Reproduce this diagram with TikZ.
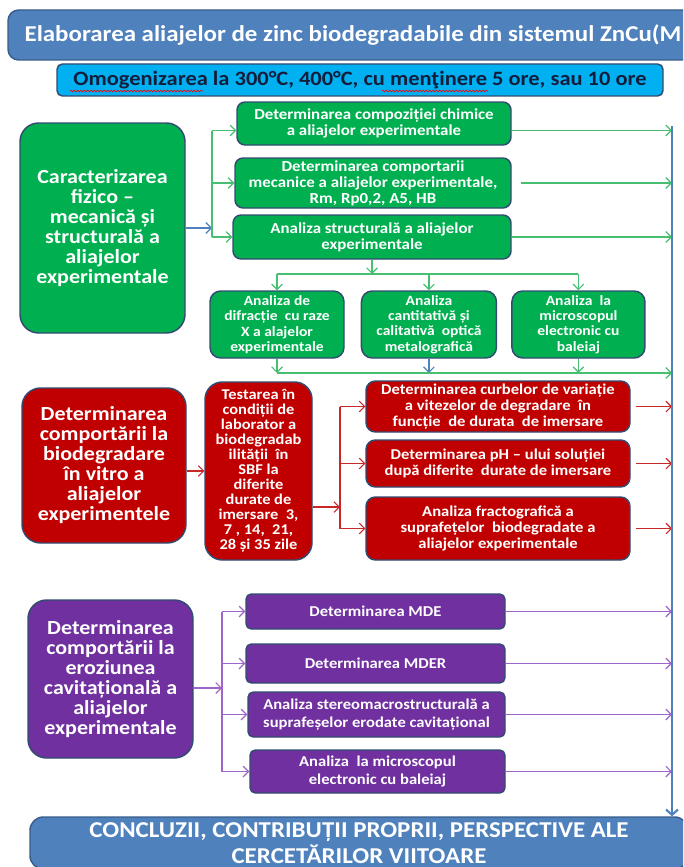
\documentclass[tikz,border=0pt]{standalone}
\usepackage{fontspec}
\setmainfont{Carlito}[FakeStretch=1.1]
\usetikzlibrary{arrows.meta, positioning, calc, decorations.pathmorphing}
\definecolor{hdrblue}{RGB}{79,129,189}
\definecolor{edgeblue}{RGB}{56,93,138}
\definecolor{mycyan}{RGB}{0,176,240}
\definecolor{mygreen}{RGB}{0,176,80}
\definecolor{mylgreen}{RGB}{70,192,112}
\definecolor{myred}{RGB}{192,0,0}
\definecolor{mylred}{RGB}{200,40,40}
\definecolor{mypurple}{RGB}{112,48,160}
\definecolor{mylpurple}{RGB}{160,100,205}
\definecolor{mydark}{RGB}{20,30,60}
\definecolor{myedge}{RGB}{50,75,112}
\tikzset{
  wh/.style 2 args={minimum width=#1*0.75pt, minimum height=#2*0.75pt},
  box/.style={rectangle, draw=myedge, line width=1.1pt, inner sep=0pt,
    align=center, text=white},
  headbox/.style={box, fill=hdrblue, draw=edgeblue, rounded corners=8pt,
    font=\fontsize{17}{19.5}\selectfont\bfseries},
  omogbox/.style={box, fill=mycyan, rounded corners=4pt, text=mydark,
    font=\fontsize{15.3}{17}\selectfont\bfseries},
  mainbox/.style={box, rounded corners=14pt,
    font=\fontsize{15}{15}\selectfont\bfseries},
  gbox/.style={box, fill=mygreen, rounded corners=6pt,
    font=\fontsize{11.5}{12}\selectfont\bfseries},
  sbox/.style={gbox, rounded corners=8pt,
    font=\fontsize{10.6}{11.5}\selectfont\bfseries},
  rbox/.style={box, fill=myred, rounded corners=7pt,
    font=\fontsize{11.3}{12}\selectfont\bfseries},
  pbox/.style={box, fill=mypurple, rounded corners=4pt,
    font=\fontsize{11.3}{14}\selectfont\bfseries},
  spell/.style={red, line width=0.5pt, decorate,
    decoration={snake, amplitude=0.6pt, segment length=2.5pt}},
  gline/.style={color=mylgreen, line width=0.9pt},
  rline/.style={color=mylred, line width=0.8pt},
  pline/.style={color=mylpurple, line width=0.9pt},
  garrow/.style={gline, -{Straight Barb[length=4pt, width=8pt]}},
  rarrow/.style={rline, -{Straight Barb[length=4pt, width=8pt]}},
  parrow/.style={pline, -{Straight Barb[length=4pt, width=8pt]}},
  barrow/.style={color=hdrblue, line width=0.9pt, -{Straight Barb[length=4pt, width=8pt]}},
  railarrow/.style={color=hdrblue, line width=1.6pt, -{Straight Barb[length=4pt, width=9pt]}}
}
\begin{document}
\begin{tikzpicture}[x=0.75pt, y=-0.75pt]
  \useasboundingbox (0,0) rectangle (683,867);
  \clip (0,0) rectangle (683,867);

  % head
  \node[headbox, wh={690}{50}] (title) at (353,35) {Elaborarea aliajelor de zinc biodegradabile din sistemul ZnCu(M};
  \node[omogbox, wh={606}{32}] (omog) at (360,80) {Omogenizarea la 300°C, 400°C, cu menţinere 5 ore, sau 10 ore};
  \draw[spell] (70,91) -- (203,91);
  \draw[spell] (382,91) -- (488,91);

  % physico-mechanical characterisation
  \node[mainbox, fill=mygreen, wh={165}{210}] (fizmec) at (102.5,228) {Caracterizarea\\fizico –\\mecanică  și\\structurală a\\aliajelor\\experimentale};
  \node[gbox, wh={274}{43}] (compoz) at (374,123.5) {Determinarea compoziției chimice\\a aliajelor experimentale};
  \node[gbox, wh={276}{50}] (mecan) at (373,183) {Determinarea comportarii\\mecanice a aliajelor experimentale,\\Rm, Rp0,2, A5, HB};
  \node[gbox, wh={278}{44}] (struct) at (372,237) {Analiza structurală a aliajelor\\experimentale};
  \node[sbox, wh={134}{67}] (difr) at (277,324.5) {Analiza de\\difracție\ \ cu raze\\X a alajelor\\experimentale};
  \node[sbox, wh={135}{67}, right=16*0.75pt of difr] (metal) {Analiza\\cantitativă și\\calitativă\ \ optică\\metalografică};
  \node[sbox, wh={133}{67}, right=14*0.75pt of metal] (sem) {Analiza\ \ la\\microscopul\\electronic cu\\baleiaj};

  % in vitro biodegradation
  \node[mainbox, fill=myred, wh={164}{155}] (biodeg) at (104,465.5) {Determinarea\\comportării la\\biodegradare\\în vitro a\\aliajelor\\experimentele};
  \node[rbox, wh={107}{178}, rounded corners=13pt, font=\fontsize{11.2}{11.25}\selectfont\bfseries] (testare) at (258.5,471)
    {Testarea în\\condiții de\\laborator a\\biodegradab\\ilității\ \ în\\SBF la\\diferite\\durate de\\imersare\ \ 3,\\7 , 14,\ \ 21,\\28 și 35 zile};
  \node[rbox, wh={264}{51}] (viteza) at (498,406.5) {Determinarea curbelor de variație\\a vitezelor de degradare\ \ în\\funcție\ \ de durata\ \ de imersare};
  \node[rbox, wh={264}{47}] (ph) at (498,463.5) {Determinarea pH – ului soluției\\după diferite\ \ durate de imersare};
  \node[rbox, wh={264}{63}] (fracto) at (498,528.5) {Analiza fractografică a\\suprafețelor\ \ biodegradate a\\aliajelor experimentale};

  % cavitation erosion
  \node[mainbox, fill=mypurple, wh={165}{158}] (cavit) at (110.5,679) {Determinarea\\comportării la\\eroziunea\\cavitațională a\\aliajelor\\experimentale};
  \node[pbox, wh={259}{35}] (mde) at (375.5,611.5) {Determinarea MDE};
  \node[pbox, wh={259}{39}] (mder) at (375.5,663.5) {Determinarea MDER};
  \node[pbox, wh={257}{45}] (stereo) at (376.5,714.5) {Analiza stereomacrostructurală a\\suprafeșelor erodate cavitațional};
  \node[pbox, wh={255}{43}] (semcav) at (377.5,771.5) {Analiza\ \ la microscopul\\electronic cu baleiaj};

  \node[headbox, wh={658}{52}, rounded corners=10pt, font=\fontsize{17}{19.5}\selectfont\bfseries] (concl) at (359,843)
    {CONCLUZII, CONTRIBUȚII PROPRII, PERSPECTIVE ALE\\CERCETĂRILOR VIITOARE};

  % bus points
  \coordinate (gbus) at (212,228);
  \coordinate (sbus) at (376,274);
  \coordinate (ebus) at (273,373);
  \coordinate (rbus) at (340,507);
  \coordinate (pbus) at (222,688);
  \coordinate (rail) at (672,126);
  \coordinate (compozin) at ($(compoz.west)+(0,7)$);
  \coordinate (compozout) at ($(compoz.east)+(0,7)$);

  % green branch
  \draw[barrow] (fizmec.east |- gbus) -- (gbus);
  \draw[gline] (gbus |- compozin) -- (gbus |- struct.west);
  \draw[garrow] (gbus |- compozin) -- (compozin);
  \foreach \n in {mecan, struct}
    \draw[garrow] (gbus |- \n.west) -- (\n.west);
  \draw[garrow] (compozout) -- (compozout -| rail);
  \draw[garrow] ([xshift=7pt]mecan.east) -- (mecan.east -| rail);
  \draw[garrow] (struct.east) -- (struct.east -| rail);
  \draw[garrow] (struct.south) -- (struct.south |- sbus);
  \draw[gline] (difr.north |- sbus) -- (sem.north |- sbus);
  \foreach \n in {difr, metal, sem}
    \draw[garrow] (\n.north |- sbus) -- (\n.north);
  \foreach \n in {difr, sem}
    \draw[garrow] (\n.south) -- (\n.south |- ebus);
  \draw[barrow] (metal.south) -- (metal.south |- ebus);
  \draw[garrow] (difr.south |- ebus) -- (ebus -| rail);

  % red branch
  \draw[rarrow] (biodeg.east |- testare.west) -- (testare.west);
  \draw[rarrow] (testare.east |- rbus) -- (rbus);
  \draw[rline] (rbus |- viteza.west) -- (rbus |- fracto.west);
  \foreach \n in {viteza, ph, fracto} {
    \draw[rarrow] (rbus |- \n.west) -- (\n.west);
    \draw[rarrow] ([xshift=4pt]\n.east) -- (\n.east -| rail);
  }

  % purple branch
  \draw[parrow] (cavit.east |- pbus) -- (pbus);
  \draw[pline] (pbus |- mde.west) -- (pbus |- semcav.west);
  \foreach \n in {mde, mder, stereo, semcav} {
    \draw[parrow] (pbus |- \n.west) -- (\n.west);
    \draw[parrow] (\n.east) -- (\n.east -| rail);
  }

  % rail to conclusions
  \draw[railarrow] (rail) -- (rail |- concl.north);
\end{tikzpicture}
\end{document}
